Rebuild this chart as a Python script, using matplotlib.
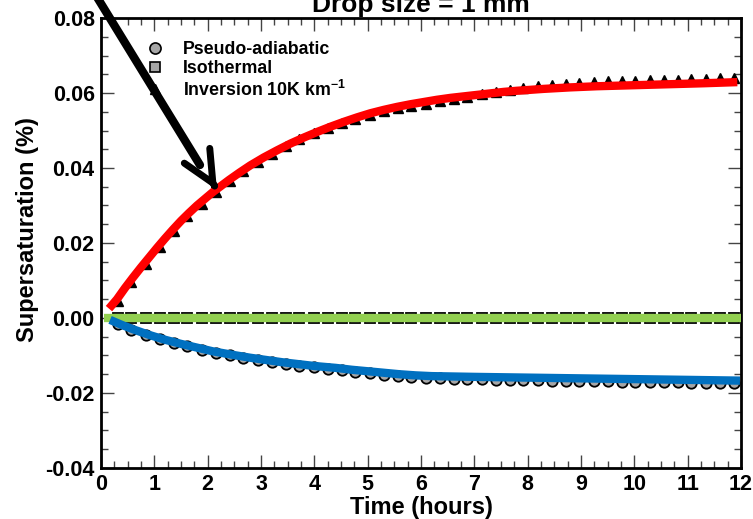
import matplotlib
matplotlib.use('Agg')
import matplotlib.pyplot as plt
from matplotlib.lines import Line2D
from matplotlib.ticker import MultipleLocator

plt.rcParams['font.family'] = ['Liberation Sans', 'DejaVu Sans']
plt.rcParams['font.weight'] = 'bold'
plt.rcParams['axes.unicode_minus'] = False
plt.rcParams['mathtext.fontset'] = 'custom'
plt.rcParams['mathtext.rm'] = 'Liberation Sans:bold'
plt.rcParams['mathtext.bf'] = 'Liberation Sans:bold'
plt.rcParams['mathtext.it'] = 'Liberation Sans:bold'

# ---------------- data ----------------
title = "Drop size = 1 mm"
x_label = "Time (hours)"
y_label = "Supersaturation (%)"
legend_labels = ["Pseudo-adiabatic", "Isothermal", r"Inversion 10K km$^{\mathbf{-1}}$"]

x_ticks = [0, 1, 2, 3, 4, 5, 6, 7, 8, 9, 10, 11, 12]
y_ticks = [-0.04, -0.02, 0.00, 0.02, 0.04, 0.06, 0.08]
y_tick_labels = ["-0.04", "-0.02", "0.00", "0.02", "0.04", "0.06", "0.08"]

# smooth model curves
inv_t = [0.15, 0.3, 0.45, 0.6, 0.75, 0.9, 1.05, 1.2, 1.35, 1.5, 1.65, 1.8, 1.95, 2.1,
         2.25, 2.4, 2.6, 2.8, 3.05, 3.3, 3.55, 3.8, 4.05, 4.3, 4.55, 4.8, 5.05, 5.3,
         5.55, 5.8, 6.05, 6.3, 6.55, 6.8, 7.05, 7.3, 7.55, 7.8, 8.3, 8.8, 9.3, 9.8,
         10.3, 10.8, 11.3, 11.93]
inv_line = [0.0025, 0.0050, 0.0080, 0.0108, 0.0135, 0.0161, 0.0187, 0.0212, 0.0236,
            0.0259, 0.0280, 0.0300, 0.0318, 0.0336, 0.0352, 0.0368, 0.0388, 0.0407,
            0.0428, 0.0447, 0.0465, 0.0481, 0.0496, 0.0510, 0.0523, 0.0535, 0.0546,
            0.0555, 0.0563, 0.0570, 0.0576, 0.0582, 0.0587, 0.0591, 0.0595, 0.0599,
            0.0603, 0.0606, 0.0611, 0.0615, 0.0618, 0.0620, 0.0622, 0.0624, 0.0626,
            0.0629]

pseudo_t = [0.17, 0.4, 0.6, 0.9, 1.2, 1.5, 1.8, 2.1, 2.5, 2.8, 3.1, 3.4, 3.7, 4.0,
            4.4, 4.7, 5.0, 5.3, 5.6, 5.9, 6.2, 6.6, 7.0, 8.0, 9.0, 10.0, 11.0, 11.98]
pseudo_line = [-0.0005, -0.0019, -0.0030, -0.0045, -0.0058, -0.0069, -0.0079, -0.0089,
               -0.0099, -0.0106, -0.0112, -0.0118, -0.0123, -0.0128, -0.0133, -0.0138,
               -0.0142, -0.0146, -0.0150, -0.0153, -0.0155, -0.0156, -0.0157, -0.0159,
               -0.0161, -0.0163, -0.0165, -0.0167]

iso_t = [0.05, 12.0]
iso_line = [0.0, 0.0]

# symbol (reference) series
marker_t = [0.31, 0.57, 0.84, 1.10, 1.36, 1.62, 1.89, 2.15, 2.41, 2.67, 2.94, 3.20,
            3.46, 3.72, 3.99, 4.25, 4.51, 4.77, 5.04, 5.30, 5.56, 5.82, 6.09, 6.35,
            6.61, 6.87, 7.14, 7.40, 7.66, 7.92, 8.19, 8.45, 8.71, 8.97, 9.24, 9.50,
            9.76, 10.02, 10.29, 10.55, 10.81, 11.07, 11.34, 11.60, 11.86]
inv_pts = [0.0045, 0.0096, 0.0144, 0.0189, 0.0232, 0.0271, 0.0305, 0.0336, 0.0364,
           0.0392, 0.0416, 0.0438, 0.0458, 0.0477, 0.0494, 0.0508, 0.0520, 0.0532,
           0.0542, 0.0552, 0.0560, 0.0566, 0.0571, 0.0578, 0.0584, 0.0590, 0.0597,
           0.0604, 0.0609, 0.0613, 0.0618, 0.0621, 0.0624, 0.0627, 0.0629, 0.0631,
           0.0632, 0.0633, 0.0634, 0.0635, 0.0636, 0.0637, 0.0638, 0.0639, 0.0640]
pseudo_pts = [-0.0017, -0.0033, -0.0045, -0.0057, -0.0067, -0.0076, -0.0085, -0.0093,
              -0.0100, -0.0107, -0.0113, -0.0118, -0.0123, -0.0128, -0.0132, -0.0136,
              -0.0140, -0.0144, -0.0148, -0.0151, -0.0155, -0.0158, -0.0160, -0.0161,
              -0.0162, -0.0163, -0.0164, -0.0165, -0.0165, -0.0166, -0.0166, -0.0167,
              -0.0167, -0.0168, -0.0168, -0.0169, -0.0170, -0.0170, -0.0171, -0.0171,
              -0.0172, -0.0173, -0.0173, -0.0174, -0.0174]
iso_pts = [0.0] * len(marker_t)

# arrow annotation (data coordinates)
arrow_start = (-0.11, 0.0864)
arrow_shaft_end = (1.856, 0.0408)
arrow_head_from = (2.126, 0.0353)
arrow_tip = (2.175, 0.0341)

# ---------------- figure ----------------
fig = plt.figure(figsize=(7.53, 5.19), dpi=100)
ax = fig.add_axes([0.1341, 0.0983, 0.85, 0.8670])

gray = '#a6a6a6'
ax.plot(marker_t, pseudo_pts, ls='none', marker='o', ms=7.5, mfc=gray, mec='black',
        mew=1.3, zorder=2)
ax.plot(marker_t, iso_pts, ls='none', marker='s', ms=7.5, mfc=gray, mec='black',
        mew=1.3, zorder=2)
ax.plot(marker_t, inv_pts, ls='none', marker='^', ms=6.5, mfc='black', mec='black',
        zorder=2)

ax.plot(iso_t, iso_line, color='#92d050', lw=6, solid_capstyle='butt', zorder=3)
ax.plot(pseudo_t, pseudo_line, color='#0070c0', lw=6, solid_capstyle='butt',
        solid_joinstyle='round', zorder=3)
ax.plot(inv_t, inv_line, color='#ff0000', lw=6, solid_capstyle='butt',
        solid_joinstyle='round', zorder=3)

ax.set_xlim(0, 12)
ax.set_ylim(-0.04, 0.08)
ax.set_xticks(x_ticks)
ax.set_xticklabels([str(v) for v in x_ticks])
ax.set_yticks(y_ticks)
ax.set_yticklabels(y_tick_labels)
ax.xaxis.set_minor_locator(MultipleLocator(0.25))
ax.yaxis.set_minor_locator(MultipleLocator(0.005))
ax.tick_params(which='both', direction='in', top=True, right=True,
               width=1.0, color='#444444', labelsize=15.5)
ax.tick_params(which='major', length=9.5)
ax.tick_params(which='minor', length=5)
ax.tick_params(axis='x', which='major', pad=4)
ax.tick_params(axis='y', which='major', pad=4.5)
for lab in ax.get_xticklabels() + ax.get_yticklabels():
    lab.set_fontweight('bold')
for sp in ax.spines.values():
    sp.set_linewidth(2.0)

ax.set_xlabel(x_label, fontsize=17, fontweight='bold')
ax.set_ylabel(y_label, fontsize=17, fontweight='bold')
ax.xaxis.set_label_coords(0.5, -0.063)
ax.yaxis.set_label_coords(-0.097, 0.53)

ax.text(0.5, 1.0133, title, transform=ax.transAxes, ha='center', va='baseline',
        fontsize=19, fontweight='bold', clip_on=False)

handles = [
    Line2D([], [], ls='none', marker='o', ms=8, mfc=gray, mec='black', mew=1.2),
    Line2D([], [], ls='none', marker='s', ms=6.5, mfc=gray, mec='black', mew=1.2),
    Line2D([], [], ls='none', marker='^', ms=7, mfc='black', mec='black'),
]
leg = ax.legend(handles, legend_labels, loc='upper left',
                bbox_to_anchor=(0.0708, 0.9489), frameon=False, borderpad=0,
                borderaxespad=0, handlelength=1.0, handletextpad=1.05,
                labelspacing=0.125, prop={'size': 12.8, 'weight': 'bold'})

# arrow
ax.annotate('', xy=arrow_shaft_end, xytext=arrow_start,
            arrowprops=dict(arrowstyle='-', lw=6, color='black',
                            shrinkA=0, shrinkB=0), annotation_clip=False)
ax.annotate('', xy=arrow_tip, xytext=arrow_head_from,
            arrowprops=dict(arrowstyle='->,head_length=22.7,head_width=10.6',
                            mutation_scale=1, lw=5, color='black',
                            shrinkA=0, shrinkB=0), annotation_clip=False)

fig.savefig('out.png', dpi=100)
